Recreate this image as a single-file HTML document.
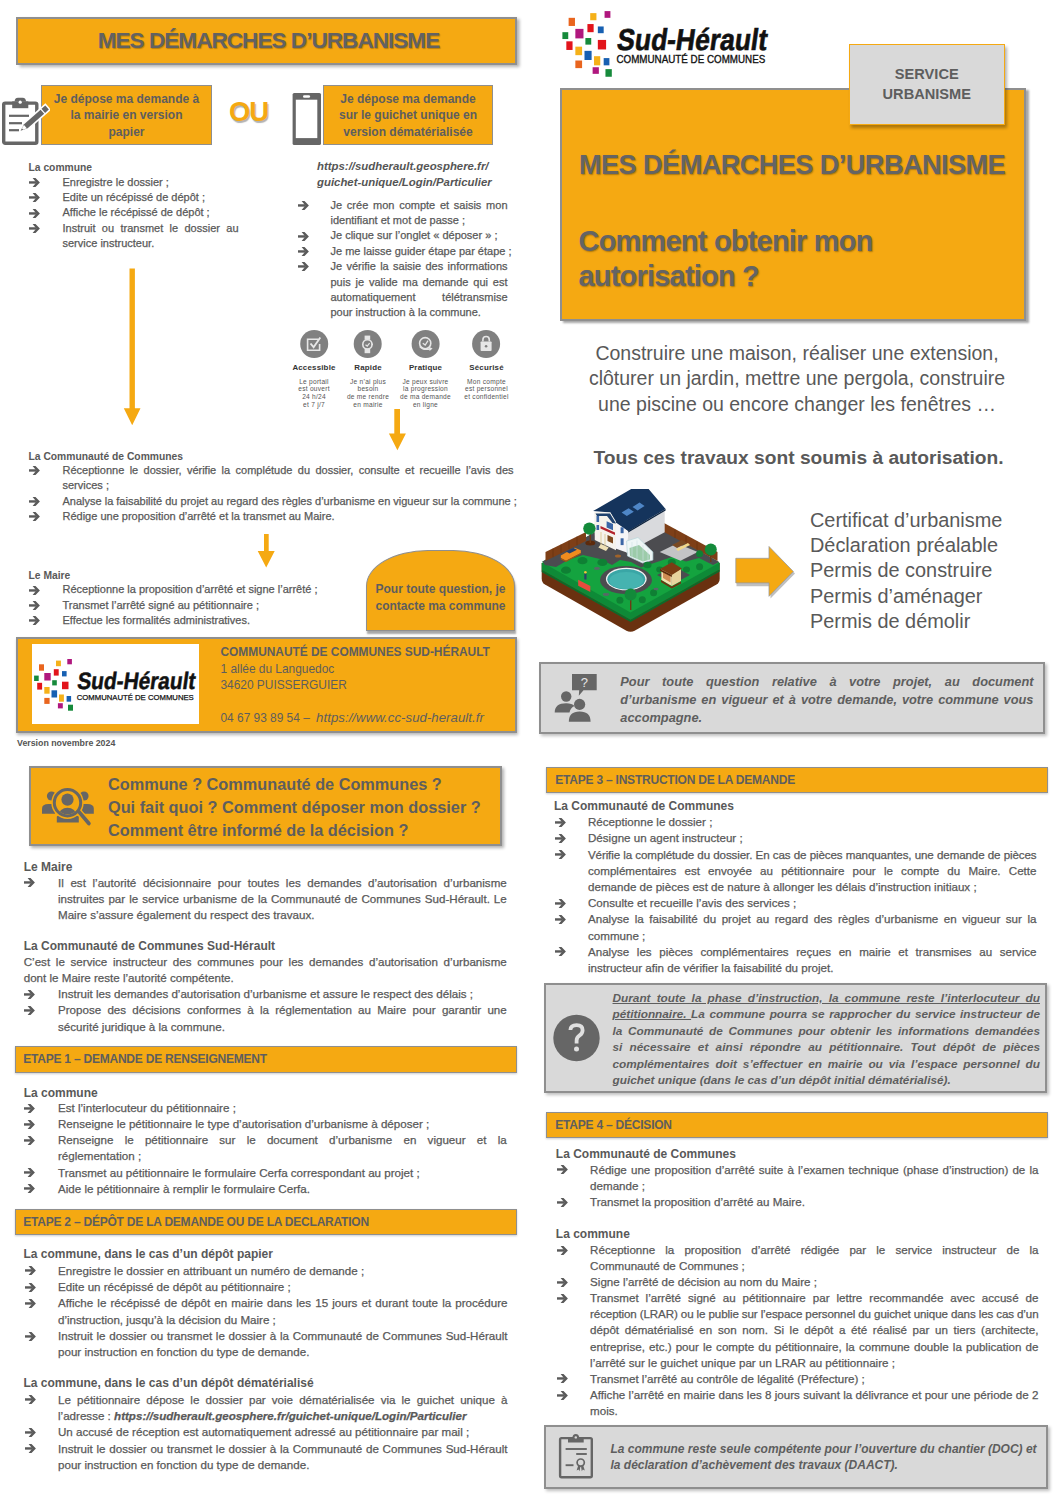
<!DOCTYPE html>
<html lang="fr"><head><meta charset="utf-8"><title>Mes démarches d'urbanisme</title>
<style>
html,body{margin:0;padding:0;background:#fff}
body{width:1061px;height:1500px;position:relative;overflow:hidden;font-family:"Liberation Sans",sans-serif;color:#595959}
.a{position:absolute}
.ob{position:absolute;box-sizing:border-box;background:#F5A912;border:1.5px solid #8f8f8f;box-shadow:1px 2px 3px rgba(0,0,0,.28)}
.gb{position:absolute;box-sizing:border-box;background:#d9d9d9;border:2px solid #8f8f8f;box-shadow:2px 2px 3px rgba(0,0,0,.25)}
.bt{position:absolute;font-size:11px;white-space:nowrap;-webkit-text-stroke:0.25px #595959}
.bt div{position:relative;white-space:nowrap}
.bt .j{text-align:justify;text-align-last:justify;white-space:normal}
.bt svg.ar{position:absolute;width:11px;height:9px;fill:#5a5a5a}
.h{font-weight:bold}
.bt.h{-webkit-text-stroke:0}
.B{font-size:11.6px}
.bt.h.B,.H2{font-size:12px}
.bt.h.T{font-size:10.3px}
.bi{font-weight:bold;font-style:italic}
.et{position:absolute;box-sizing:border-box;background:#F5A912;border:1.5px solid #8f8f8f;font-weight:bold;font-size:12px;letter-spacing:-0.22px;padding-top:1px;color:#5e5e5e;white-space:nowrap;box-shadow:0 1px 2px rgba(0,0,0,.2)}
</style></head><body>
<svg width="0" height="0" style="position:absolute">
<defs>
<symbol id="ar" viewBox="0 0 11 9"><rect x="0" y="3.25" width="7" height="2.4"/><polygon points="3.6,0 6.5,0 10.9,4.45 6.5,8.9 3.6,8.9 7.3,4.45"/></symbol>
<symbol id="logo" viewBox="33 655 164 58">
<rect x="67.3" y="659" width="4.6" height="5.3" fill="#b0177e"/>
<rect x="56" y="660.6" width="4.9" height="5.6" fill="#f5b119"/>
<rect x="39" y="664.3" width="5" height="6.4" fill="#e9651e"/>
<rect x="53.8" y="669.2" width="4.9" height="6.4" fill="#e2141b"/>
<rect x="62" y="671.1" width="4.6" height="5.3" fill="#1760b2"/>
<rect x="44.3" y="673" width="6.4" height="7.5" fill="#b0177e"/>
<rect x="34.1" y="675.6" width="4.6" height="5.4" fill="#168a3b"/>
<rect x="52.2" y="680.2" width="4.6" height="5.2" fill="#168a3b"/>
<rect x="62" y="681.7" width="6.5" height="7.5" fill="#e2141b"/>
<rect x="37.2" y="682.8" width="4.9" height="6.8" fill="#e2141b"/>
<rect x="44.3" y="687" width="5.3" height="6.7" fill="#f5b119"/>
<rect x="51.5" y="690.3" width="5.6" height="7.2" fill="#1760b2"/>
<rect x="59" y="694.5" width="4.9" height="7.2" fill="#f5b119"/>
<rect x="66.6" y="696" width="4.5" height="5.7" fill="#1760b2"/>
<rect x="44.3" y="697.9" width="5.3" height="6" fill="#e9651e"/>
<rect x="57.9" y="703.2" width="4.9" height="5.2" fill="#b0177e"/>
<rect x="68" y="704.7" width="5" height="6" fill="#168a3b"/>
<text x="76.4" y="689.4" transform="translate(76.4 689.4) skewX(-8) translate(-76.4 -689.4)" font-family="Liberation Sans" font-weight="bold" font-size="23.8" textLength="118" lengthAdjust="spacingAndGlyphs" fill="#111" stroke="#111" stroke-width="0.5">Sud-Hérault</text>
<text x="76.7" y="700.2" font-family="Liberation Sans" font-size="7.9" stroke="#111" stroke-width="0.25" textLength="117.1" lengthAdjust="spacingAndGlyphs" fill="#111">COMMUNAUTÉ DE COMMUNES</text>
</symbol>
</defs>
</svg>

<!-- ============ TOP LEFT ============ -->
<div class="ob" style="left:16px;top:17px;width:501px;height:47.5px;border-width:2px;box-shadow:2.5px 2px 3px rgba(0,0,0,.3)"></div>
<div class="a h" style="left:16px;top:17px;width:501px;height:47px;line-height:47px;text-align:center;font-size:22.6px;color:#626262;letter-spacing:-1px;padding-left:2px;text-shadow:1px 1px 1px rgba(0,0,0,.25)">MES DÉMARCHES D’URBANISME</div>

<!-- clipboard + pencil icon -->
<svg class="a" style="left:0;top:95px;z-index:2" width="50" height="52" viewBox="0 95 50 52">
<rect x="3.7" y="103.1" width="33.1" height="40.2" rx="1.5" fill="#fff" stroke="#666" stroke-width="3.4"/>
<path d="M12.2 101.4H28.3V108.2H12.2Z" fill="#666"/>
<path d="M14.6 101.6Q14.6 97.7 18 97.7H22.6Q26 97.7 26 101.6Z" fill="#666"/>
<circle cx="20.2" cy="102.2" r="1.6" fill="#fff"/>
<g stroke="#666" stroke-width="2.2"><line x1="9" y1="115.8" x2="29" y2="115.8"/><line x1="9" y1="123.2" x2="22" y2="123.2"/><line x1="9" y1="130.2" x2="19" y2="130.2"/></g>
<g transform="translate(20.6,130.8) rotate(-41.3)">
<path d="M-1 0L7 -4.3H36.8V4.3H7Z" fill="#fff"/>
<path d="M0 0L7 -2.7H29V2.7H7Z" fill="#666"/>
<path d="M2.6 -1L6.4 -2.1V2.1L2.6 1Z" fill="#fff"/>
<rect x="30.2" y="-2.7" width="5" height="5.4" fill="#666"/>
</g>
</svg>
<div class="ob" style="left:41px;top:85px;width:171px;height:60px;box-shadow:none"></div>
<div class="a h" style="left:41px;top:90.5px;width:171px;text-align:center;font-size:12px;line-height:16.7px;color:#5e5e5e">Je dépose ma demande à<br>la mairie en version<br>papier</div>
<div class="a h" style="left:229px;top:96px;font-size:27.5px;line-height:32px;color:#F5A912;letter-spacing:-1.2px;text-shadow:1px 1.5px 1px rgba(0,0,0,.3)">OU</div>
<!-- phone -->
<svg class="a" style="left:292px;top:92px" width="30" height="54" viewBox="292 92 30 54">
<rect x="292.6" y="93" width="28.4" height="52" rx="1.6" fill="#666"/>
<rect x="295.8" y="99.7" width="21.5" height="38.4" fill="#fff"/>
<rect x="303" y="95.2" width="7.1" height="2.6" rx="1.3" fill="#fff"/>
</svg>
<div class="ob" style="left:323px;top:85px;width:170px;height:60px;box-shadow:none"></div>
<div class="a h" style="left:323px;top:90.5px;width:170px;text-align:center;font-size:12px;line-height:16.7px;color:#5e5e5e">Je dépose ma demande<br>sur le guichet unique en<br>version dématérialisée</div>

<!-- section A -->
<div class="bt h T" style="left:28.5px;top:160.4px;line-height:15.3px">La commune</div>
<div class="bt" style="left:28.5px;top:174.85px;line-height:15.3px">
<div><svg class="ar" style="left:0;top:3.2px"><use href="#ar"/></svg><span style="margin-left:34px">Enregistre le dossier ;</span></div>
<div><svg class="ar" style="left:0;top:3.2px"><use href="#ar"/></svg><span style="margin-left:34px">Edite un récépissé de dépôt ;</span></div>
<div><svg class="ar" style="left:0;top:3.2px"><use href="#ar"/></svg><span style="margin-left:34px">Affiche le récépissé de dépôt ;</span></div>
<div style="padding-left:34px;width:176px" class="j"><svg class="ar" style="left:0;top:3.2px"><use href="#ar"/></svg>Instruit ou transmet le dossier au</div>
<div style="padding-left:34px">service instructeur.</div>
</div>

<!-- section B -->
<div class="a bi" style="left:317px;top:157.5px;font-size:11.4px;line-height:16px;color:#555">https://sudherault.geosphere.fr/<br>guichet-unique/Login/Particulier</div>
<div class="bt" style="left:297.5px;top:197.7px;line-height:15.37px">
<div style="padding-left:33px;width:177px" class="j"><svg class="ar" style="left:0;top:3.2px"><use href="#ar"/></svg>Je crée mon compte et saisis mon</div>
<div style="padding-left:33px">identifiant et mot de passe ;</div>
<div style="padding-left:33px"><svg class="ar" style="left:0;top:3.2px"><use href="#ar"/></svg>Je clique sur l’onglet « déposer » ;</div>
<div style="padding-left:33px"><svg class="ar" style="left:0;top:3.2px"><use href="#ar"/></svg>Je me laisse guider étape par étape ;</div>
<div style="padding-left:33px;width:177px" class="j"><svg class="ar" style="left:0;top:3.2px"><use href="#ar"/></svg>Je vérifie la saisie des informations</div>
<div style="padding-left:33px;width:177px" class="j">puis je valide ma demande qui est</div>
<div style="padding-left:33px;width:177px" class="j">automatiquement télétransmise</div>
<div style="padding-left:33px">pour instruction à la commune.</div>
</div>

<!-- feature icons -->
<svg class="a" style="left:295px;top:325px" width="210" height="40" viewBox="295 325 210 40">
<g fill="#808080"><circle cx="314.2" cy="344" r="14"/><circle cx="367.7" cy="344" r="14"/><circle cx="425.6" cy="344" r="14"/><circle cx="486.1" cy="344" r="14"/></g>
<g fill="none" stroke="#e6e6e6" stroke-width="1.6">
<path d="M318.5 339.2H307.6V350.2H319.6V344"/>
<path d="M310.5 343.5L313.6 347.2L320.3 337.5" stroke-width="1.9"/>
<circle cx="367.4" cy="344.4" r="4.6"/>
<path d="M365.5 344.8L367.2 346.1L369.6 343.2" stroke-width="1.2"/>
<circle cx="425.2" cy="343.2" r="5.6"/>
<path d="M422.8 343.2L425.2 345L428 340.6" stroke-width="1.3"/>
<path d="M419.8 346.5Q423 350.6 430.5 348.8" stroke-width="1.4"/>
<path d="M486.1 341.6V339.7A3.2 3.2 0 0 0 479.7 339.7V341.6" transform="translate(3.2,0)" stroke-width="1.6"/>
</g>
<g fill="#e6e6e6">
<rect x="364.6" y="335.6" width="5.6" height="4.2"/><rect x="364.6" y="348.6" width="5.6" height="4.6"/>
<rect x="371.8" y="343.6" width="1.2" height="1.6"/>
<path d="M429 346.8L432.6 348.4L429.6 351Z"/>
<rect x="480.6" y="341.4" width="11" height="9.6" rx="0.8"/>
</g>
<circle cx="486.1" cy="346.2" r="1.3" fill="#808080"/>
</svg>
<div class="a" style="left:284px;top:363px;width:60px;text-align:center;font-size:7.9px;line-height:10px;font-weight:bold;color:#333;letter-spacing:0.2px">Accessible</div>
<div class="a" style="left:338px;top:363px;width:60px;text-align:center;font-size:7.9px;line-height:10px;font-weight:bold;color:#333;letter-spacing:0.2px">Rapide</div>
<div class="a" style="left:393px;top:363px;width:65px;text-align:center;font-size:7.9px;line-height:10px;font-weight:bold;color:#333;letter-spacing:0.2px">Pratique</div>
<div class="a" style="left:454px;top:363px;width:65px;text-align:center;font-size:7.9px;line-height:10px;font-weight:bold;color:#333;letter-spacing:0.2px">Sécurisé</div>
<div class="a" style="left:284px;top:377.6px;width:60px;text-align:center;font-size:6.6px;line-height:7.8px;color:#555;letter-spacing:0.25px">Le portail<br>est ouvert<br>24 h/24<br>et 7 j/7</div>
<div class="a" style="left:338px;top:377.6px;width:60px;text-align:center;font-size:6.6px;line-height:7.8px;color:#555;letter-spacing:0.25px">Je n’ai plus<br>besoin<br>de me rendre<br>en mairie</div>
<div class="a" style="left:390px;top:377.6px;width:71px;text-align:center;font-size:6.6px;line-height:7.8px;color:#555;letter-spacing:0.25px">Je peux suivre<br>la progression<br>de ma demande<br>en ligne</div>
<div class="a" style="left:451px;top:377.6px;width:71px;text-align:center;font-size:6.6px;line-height:7.8px;color:#555;letter-spacing:0.25px">Mon compte<br>est personnel<br>et confidentiel</div>

<!-- orange down arrows -->
<svg class="a" style="left:0;top:0" width="420" height="580" viewBox="0 0 420 580">
<g fill="#F5A912">
<path d="M129.5 268.4H134.9V408.3H140.5L132.2 425.3L123.8 408.3H129.5Z"/>
<path d="M394.3 409H400V433.4H405.9L397.4 450.3L388.9 433.4H394.3Z"/>
<path d="M264 534H268.7V551H274.7L266.2 567.5L257.7 551H264Z"/>
</g>
</svg>

<!-- section C -->
<div class="bt h T" style="left:28.5px;top:448.9px;line-height:15.2px">La Communauté de Communes</div>
<div class="bt" style="left:28.5px;top:463.4px;line-height:15.1px">
<div style="padding-left:34px;width:451px" class="j"><svg class="ar" style="left:0;top:3.1px"><use href="#ar"/></svg>Réceptionne le dossier, vérifie la complétude du dossier, consulte et recueille l’avis des</div>
<div style="padding-left:34px">services ;</div>
<div style="padding-left:34px"><svg class="ar" style="left:0;top:3.1px"><use href="#ar"/></svg>Analyse la faisabilité du projet au regard des règles d’urbanisme en vigueur sur la commune ;</div>
<div style="padding-left:34px"><svg class="ar" style="left:0;top:3.1px"><use href="#ar"/></svg>Rédige une proposition d’arrêté et la transmet au Maire.</div>
</div>
<div class="bt h T" style="left:28.5px;top:567.8px;line-height:15.2px">Le Maire</div>
<div class="bt" style="left:28.5px;top:582.4px;line-height:15.3px">
<div style="padding-left:34px"><svg class="ar" style="left:0;top:3.2px"><use href="#ar"/></svg>Réceptionne la proposition d’arrêté et signe l’arrêté ;</div>
<div style="padding-left:34px"><svg class="ar" style="left:0;top:3.2px"><use href="#ar"/></svg>Transmet l’arrêté signé au pétitionnaire ;</div>
<div style="padding-left:34px"><svg class="ar" style="left:0;top:3.2px"><use href="#ar"/></svg>Effectue les formalités administratives.</div>
</div>

<!-- question rounded box -->
<div class="a" style="left:365.9px;top:549.9px;width:149.4px;height:81.4px;box-sizing:border-box;background:#F5A912;border:1.5px solid #8f8f8f;border-radius:62px 62px 0 0/36px 36px 0 0;box-shadow:1px 3px 2px rgba(0,0,0,.35)"></div>
<div class="a h" style="left:366px;top:580.5px;width:149px;text-align:center;font-size:12px;line-height:17.6px;color:#5e5e5e">Pour toute question, je<br>contacte ma commune</div>

<!-- footer box -->
<div class="ob" style="left:15.5px;top:637px;width:501px;height:95.5px;border-width:2px"></div>
<div class="a" style="left:32px;top:643.7px;width:166.7px;height:80px;background:#fff"></div>
<svg class="a" style="left:33px;top:655px" width="164" height="58"><use href="#logo" width="164" height="58"/></svg>
<div class="a" style="left:220.5px;top:644.2px;font-size:11.9px;line-height:16.5px;color:#5e5e5e;white-space:nowrap"><b>COMMUNAUTÉ DE COMMUNES SUD-HÉRAULT</b><br>1 allée du Languedoc<br>34620 PUISSERGUIER<br><br>04 67 93 89 54 – <i style="font-size:13.2px;letter-spacing:0.05px;margin-left:3px">https://www.cc-sud-herault.fr</i></div>
<div class="a h" style="left:17px;top:737.5px;font-size:8.8px;line-height:11px;color:#555">Version novembre 2024</div>

<!-- ============ TOP RIGHT ============ -->
<svg class="a" style="left:561.1px;top:5.6px" width="208.3" height="73.7"><use href="#logo" width="208.3" height="73.7"/></svg>
<div class="ob" style="left:559.6px;top:88.4px;width:466px;height:233px;border-width:2px;box-shadow:2.5px 2px 2px rgba(0,0,0,.35)"></div>
<div class="a" style="left:848.5px;top:43.5px;width:156.5px;height:81px;box-sizing:border-box;background:#d9d9d9;border:1.5px solid #F5A912;box-shadow:2px 3px 3px rgba(0,0,0,.3)"></div>
<div class="a h" style="left:848.5px;top:63.6px;width:156.5px;text-align:center;font-size:14.6px;line-height:20.6px;color:#5e5e5e">SERVICE<br>URBANISME</div>
<div class="a h" style="left:579px;top:150px;font-size:27.2px;line-height:30px;letter-spacing:-0.6px;color:#646464;white-space:nowrap;text-shadow:1px 1px 1.5px rgba(0,0,0,.3)">MES DÉMARCHES D’URBANISME</div>
<div class="a h" style="left:578.5px;top:224px;font-size:29px;line-height:34.8px;letter-spacing:-0.8px;color:#646464;white-space:nowrap;text-shadow:1px 1px 1.5px rgba(0,0,0,.3)">Comment obtenir mon<br>autorisation ?</div>

<div class="a" style="left:560px;top:340.9px;width:474px;text-align:center;font-size:19.5px;line-height:25.4px;color:#595959;white-space:nowrap">Construire une maison, réaliser une extension,<br>clôturer un jardin, mettre une pergola, construire<br>une piscine ou encore changer les fenêtres …</div>
<div class="a h" style="left:560px;top:445px;width:477px;text-align:center;font-size:19.2px;line-height:25px;color:#595959;white-space:nowrap">Tous ces travaux sont soumis à autorisation.</div>

<!-- house illustration -->
<svg class="a" style="left:536px;top:484px" width="190" height="152" viewBox="536 484 190 152">
<!-- base -->
<path d="M541.7 563V578.5Q541.7 582.5 545 584.5L626 630.5Q630.5 633 635 630.5L716.5 584.5Q719.7 582.5 719.7 578.5V563Z" fill="#6a3110"/>
<path d="M541.7 563V570L630.5 620L719.7 569.5V563Z" fill="#0e8a37"/>
<path d="M630.5 620L719.7 569.5V571.5L630.5 622L541.7 572V570Z" fill="#0a6d2b"/>
<!-- top surface -->
<path d="M541.7 562L631 512L719.7 562.4L630.5 612.5Z" fill="#14a33f"/>
<!-- driveway gray -->
<path d="M542.5 561.5L631 512L719 562L713 565L699 558L686 561.5L672 557L660 561L648 565L641 567.5L631 562L620 560L612 565L600 559L583 555L568 560L556 567L545 565Z" fill="#4c4c50"/>
<!-- gazebo square gray -->
<path d="M657 575L674 566L690 575L673 584Z" fill="#4c4c50"/>
<!-- patio -->
<path d="M659.7 552L677 543.4L697.8 552L680.5 560.7Z" fill="#c4c4c6"/>
<!-- pool path + pool -->
<ellipse cx="626" cy="580" rx="26" ry="14" fill="#4c4c50"/>
<ellipse cx="626.3" cy="579" rx="20.4" ry="11.3" fill="#f4f4f4"/>
<ellipse cx="626.3" cy="579.2" rx="19" ry="10.2" fill="#3aa6a6"/>
<ellipse cx="626.3" cy="580.5" rx="17" ry="8.4" fill="#45b3b0"/>
<!-- fences -->
<path d="M545.5 552L586 532V541L545.5 561Z" fill="#7e3f17"/>
<path d="M664 523L717.5 552V561L664 532.1Z" fill="#7e3f17"/>
<g stroke="#5e2f0f" stroke-width="0.5"><line x1="553" y1="548.5" x2="553" y2="557.2"/><line x1="561" y1="544.5" x2="561" y2="553.2"/><line x1="569" y1="540.5" x2="569" y2="549.2"/><line x1="577" y1="536.5" x2="577" y2="545.2"/><line x1="675" y1="529.3" x2="675" y2="538"/><line x1="686" y1="535.3" x2="686" y2="544"/><line x1="697" y1="541.3" x2="697" y2="550"/><line x1="708" y1="547.3" x2="708" y2="556"/></g>
<!-- house -->
<path d="M628.3 531.1L664.7 509.4V532.3L626.6 552.7Z" fill="#d9dadd"/>
<path d="M615.5 521.3V548.5L627.4 552.7L628.3 531.1Z" fill="#f5f5f7"/>
<path d="M593.1 511.1L631.2 489.1H648.6L665.6 509L628.3 531.1L615.5 522.2L610.4 512.4Z" fill="#15345c"/>
<path d="M628.3 531.1L665.6 509V510.5L628.3 532.6Z" fill="#0d2440"/>
<path d="M621.6 512.6L628.6 508.2L633.8 511.7L626.8 516Z" fill="#4f86c6"/>
<path d="M632.5 507L639.5 502.6L644.6 506L637.6 510.4Z" fill="#4f86c6"/>
<rect x="620.6" y="527.3" width="3" height="5.9" fill="#3b66a6"/>
<rect x="620.6" y="538.3" width="3" height="6.8" fill="#3b66a6"/>
<!-- porch -->
<path d="M594.3 512.2L610.4 512.4L616 521.5V550.2L594.8 540Z" fill="#f6f3ec"/>
<path d="M595.5 513.5L610 513.5L616 523.5L612.5 523L607 516L597 516Z" fill="#1f426f"/>
<rect x="596.5" y="516" width="2.6" height="6" fill="#3b66a6"/>
<rect x="596.5" y="525" width="2.6" height="5" fill="#3b66a6"/>
<path d="M606.6 521.3L613 524V530.2L606.6 527.4Z" fill="#3b66a6"/>
<path d="M600.5 526L615 532.5V535L600.5 528.5Z" fill="#b3232b"/>
<path d="M607.5 535L613 537.5V543.5L607.5 541Z" fill="#7d4a1e"/>
<path d="M601 544L608.7 547.6L606 551L598.4 547.4Z" fill="#efe0b5"/>
<path d="M601 532V545M605 534V546" stroke="#d9c38c" stroke-width="0.8"/>
<!-- greenhouse -->
<path d="M626.6 541L638 537.5L652.9 552V560L642.5 563L627.5 556Z" fill="#eef6f6" stroke="#b6d6da" stroke-width="0.7"/>
<path d="M629.5 548L639 545L650 555V559.5L643 561.5L630 556Z" fill="#5aa86a" opacity=".55"/>
<path d="M632 542V557M637 540.5V559.5M643 545V562M648 549.5V561" stroke="#cfe3e6" stroke-width="0.6"/>
<!-- trees -->
<ellipse cx="590.3" cy="543" rx="5" ry="2.5" fill="#5c2a0c"/>
<rect x="589.6" y="532" width="1.4" height="11" fill="#6e3a14"/>
<circle cx="589.4" cy="528.6" r="6.2" fill="#138a3a"/>
<rect x="710.1" y="552" width="1.4" height="10" fill="#6e3a14"/>
<circle cx="710.8" cy="549.4" r="6" fill="#138a3a"/>
<!-- bushes -->
<g fill="#0f8034">
<ellipse cx="582.5" cy="560.7" rx="5" ry="3.6"/><ellipse cx="602.4" cy="562.4" rx="5" ry="3.6"/><ellipse cx="566" cy="570.2" rx="5" ry="3.6"/>
<ellipse cx="647.5" cy="565" rx="4" ry="3.2"/><ellipse cx="659.7" cy="569.4" rx="3.5" ry="3"/><ellipse cx="686.5" cy="569.4" rx="3.5" ry="3"/>
<ellipse cx="699.6" cy="553.8" rx="3.5" ry="3.5"/><ellipse cx="699.6" cy="566.8" rx="3.5" ry="3.5"/><ellipse cx="653.6" cy="592.8" rx="3.5" ry="3.5"/>
<ellipse cx="619.9" cy="600.3" rx="3.5" ry="3.5"/><ellipse cx="642.3" cy="599.7" rx="3.5" ry="3.5"/><ellipse cx="671.8" cy="562.4" rx="4" ry="3.4"/>
</g>
<g fill="#6a5a72" opacity=".8"><ellipse cx="597" cy="568.5" rx="3" ry="1.4"/><ellipse cx="606" cy="594.5" rx="3.2" ry="1.4"/><ellipse cx="656" cy="589" rx="2.5" ry="1.2"/></g>
<!-- front tree -->
<rect x="630" y="598" width="1.4" height="12" fill="#6e3a14"/>
<circle cx="630.6" cy="594.5" r="6" fill="#138a3a"/>
<!-- car -->
<path d="M560.8 555.5L574.7 547.7L580.8 550.3V552.9L566 560.7L560.8 558.1Z" fill="#f08c1e"/>
<path d="M566 551.5L573.5 548L577 549.8L569.5 553.5Z" fill="#24406e"/>
<path d="M560.8 558.1L566 560.7L580.8 552.9V554L566 562L560.8 559.5Z" fill="#a2570f"/>
<!-- gazebo -->
<path d="M661.4 568.5V580L671.8 586V574Z" fill="#f1e2b2"/>
<path d="M671.8 574V586L681 581V569Z" fill="#e8d49e"/>
<path d="M663 571V578L670.5 582.5V575Z" fill="#c06a2c" opacity=".7"/>
<path d="M660 569L671.8 562.2L682 568.5L671.8 575Z" fill="#7a3d14"/>
<path d="M660 569L671.8 575V577L660 571Z" fill="#5e2d0d"/>
<path d="M661 580L671.8 586.5L681 581.5V583.5L671.8 588.5L661 582Z" fill="#6e3310"/>
<!-- sign + person -->
<path d="M578.2 579.8L590.3 586V592L578.2 585.8Z" fill="#e84c3d"/>
<rect x="584.3" y="573.5" width="2.2" height="6" fill="#2b3f6a"/>
<circle cx="585.4" cy="572.3" r="1.3" fill="#f2c23a"/>
<!-- misc -->
<ellipse cx="618" cy="556" rx="3" ry="1.5" fill="#a0632a"/>
<path d="M672 545L682 540L687 543L677 548Z" fill="#7a4a22"/>
<path d="M676 549L688 543L690 545L678 551Z" fill="#f2d88a"/>
</svg>

<!-- orange right arrow -->
<svg class="a" style="left:733px;top:544px" width="64" height="56" viewBox="733 544 64 56">
<path d="M736.5 560.3H770.5V548.5L795 573.5L770.5 598.5V586.3H736.5Z" fill="#8a8a8a" opacity=".55"/>
<path d="M735.8 558.3H769V546.5L793.3 571.5L769 596.3V582.9H735.8Z" fill="#F5A912" stroke="#9a9a9a" stroke-width=".8"/>
</svg>
<div class="a" style="left:810px;top:507.9px;font-size:19.9px;line-height:25.3px;color:#595959;white-space:nowrap">Certificat d’urbanisme<br>Déclaration préalable<br>Permis de construire<br>Permis d’aménager<br>Permis de démolir</div>

<!-- gray info box -->
<div class="gb" style="left:539.4px;top:662px;width:505.6px;height:72px"></div>
<svg class="a" style="left:550px;top:670px" width="50" height="56" viewBox="550 670 50 56">
<g fill="#666">
<path d="M572 674H596.7V690.2H583.5L578.8 695.8L579.2 690.2H572Z"/>
<circle cx="566.2" cy="696.5" r="5.2"/>
<path d="M554.7 712.5Q554.7 703.2 566.2 703.2Q572 703.2 574.5 706Q570.5 707.5 569.5 712.5Z"/>
<circle cx="579.6" cy="704.4" r="5.6"/>
<path d="M568.8 721.7Q568.8 711.4 579.6 711.4Q590.6 711.4 590.6 721.7Z"/>
</g>
<text x="584.4" y="687" font-family="Liberation Sans" font-size="13" fill="#e6e6e6" text-anchor="middle">?</text>
</svg>
<div class="a bi" style="left:620.3px;top:673.3px;width:413.2px;font-size:12.8px;line-height:18px;color:#5e5e5e">
<div style="text-align:justify;text-align-last:justify">Pour toute question relative à votre projet, au document</div>
<div style="text-align:justify;text-align-last:justify">d’urbanisme en vigueur et à votre demande, votre commune vous</div>
<div>accompagne.</div>
</div>

<!-- ============ BOTTOM LEFT ============ -->
<div class="ob" style="left:29.3px;top:766.1px;width:473.2px;height:80.2px;border-width:2px;box-shadow:2px 2px 3px rgba(0,0,0,.3)"></div>
<svg class="a" style="left:38px;top:784px" width="60" height="44" viewBox="38 784 60 44">
<defs><clipPath id="ring"><circle cx="67.5" cy="802.7" r="11.6"/></clipPath></defs>
<g fill="#666">
<circle cx="51.5" cy="796" r="4.6"/><path d="M42 813.7V808.5Q42 803.9 48.5 803.9H55V813.7Z"/>
<circle cx="84" cy="796" r="4.6"/><path d="M81.6 803.9H87.3Q93.8 803.9 93.8 808.5V813.7H81.6Z"/>
<path d="M56.8 822.6V817Q56.8 815.5 60 815.5H75.6Q78.8 815.5 78.8 817V822.6Z"/>
</g>
<circle cx="67.5" cy="802.7" r="13.2" fill="#F5A912" stroke="#F5A912" stroke-width="6"/>
<line x1="77.9" y1="810.6" x2="88.9" y2="823.5" stroke="#F5A912" stroke-width="6.5" stroke-linecap="round"/>
<circle cx="67.5" cy="802.7" r="13.2" fill="none" stroke="#666" stroke-width="3"/>
<line x1="78.6" y1="811.4" x2="88.9" y2="823.5" stroke="#666" stroke-width="3.7" stroke-linecap="round"/>
<g fill="#666" clip-path="url(#ring)"><circle cx="67.5" cy="799.6" r="6.1"/><ellipse cx="67.5" cy="815" rx="9" ry="7.2"/></g>
</svg>
<div class="a h" style="left:108px;top:773.1px;font-size:16.3px;line-height:22.7px;color:#5e5e5e;white-space:nowrap">Commune ? Communauté de Communes ?<br>Qui fait quoi ? Comment déposer mon dossier ?<br>Comment être informé de la décision ?</div>

<div class="bt h B" style="left:23.7px;top:858.6px;line-height:16px">Le Maire</div>
<div class="bt B" style="left:24.2px;top:874.6px;line-height:16px">
<div style="padding-left:33.8px;width:448.8px" class="j"><svg class="ar" style="left:0;top:3.6px"><use href="#ar"/></svg>Il est l’autorité décisionnaire pour toutes les demandes d’autorisation d’urbanisme</div>
<div style="padding-left:33.8px;width:448.8px" class="j">instruites par le service urbanisme de la Communauté de Communes Sud-Hérault. Le</div>
<div style="padding-left:33.8px">Maire s’assure également du respect des travaux.</div>
</div>
<div class="bt h" style="left:23.7px;top:938.2px;line-height:16px;font-size:12px">La Communauté de Communes Sud-Hérault</div>
<div class="bt B" style="left:23.7px;top:953.9px;line-height:16.2px">
<div style="width:483.1px" class="j">C’est le service instructeur des communes pour les demandes d’autorisation d’urbanisme</div>
<div>dont le Maire reste l’autorité compétente.</div>
</div>
<div class="bt B" style="left:24.2px;top:986.2px;line-height:16.25px">
<div style="padding-left:33.8px"><svg class="ar" style="left:0;top:3.7px"><use href="#ar"/></svg>Instruit les demandes d’autorisation d’urbanisme et assure le respect des délais ;</div>
<div style="padding-left:33.8px;width:448.8px" class="j"><svg class="ar" style="left:0;top:3.7px"><use href="#ar"/></svg>Propose des décisions conformes à la réglementation au Maire pour garantir une</div>
<div style="padding-left:33.8px">sécurité juridique à la commune.</div>
</div>

<div class="et" style="left:14.5px;top:1046.4px;width:502px;height:26.2px;line-height:23.2px;padding-left:7.7px">ETAPE 1 – DEMANDE DE RENSEIGNEMENT</div>
<div class="bt h B" style="left:23.7px;top:1084.7px;line-height:16px">La commune</div>
<div class="bt B" style="left:24.2px;top:1100.2px;line-height:16.1px">
<div style="padding-left:33.8px"><svg class="ar" style="left:0;top:3.6px"><use href="#ar"/></svg>Est l’interlocuteur du pétitionnaire ;</div>
<div style="padding-left:33.8px"><svg class="ar" style="left:0;top:3.6px"><use href="#ar"/></svg>Renseigne le pétitionnaire le type d’autorisation d’urbanisme à déposer ;</div>
<div style="padding-left:33.8px;width:448.8px" class="j"><svg class="ar" style="left:0;top:3.6px"><use href="#ar"/></svg>Renseigne le pétitionnaire sur le document d’urbanisme en vigueur et la</div>
<div style="padding-left:33.8px">réglementation ;</div>
<div style="padding-left:33.8px"><svg class="ar" style="left:0;top:3.6px"><use href="#ar"/></svg>Transmet au pétitionnaire le formulaire Cerfa correspondant au projet ;</div>
<div style="padding-left:33.8px"><svg class="ar" style="left:0;top:3.6px"><use href="#ar"/></svg>Aide le pétitionnaire à remplir le formulaire Cerfa.</div>
</div>

<div class="et" style="left:14.5px;top:1209.2px;width:502px;height:26.2px;line-height:23.2px;padding-left:7.7px">ETAPE 2 – DÉPÔT DE LA DEMANDE OU DE LA DECLARATION</div>
<div class="bt h B" style="left:23.5px;top:1246px;line-height:16px">La commune, dans le cas d’un dépôt papier</div>
<div class="bt B" style="left:24.5px;top:1262.8px;line-height:16.3px">
<div style="padding-left:33.5px"><svg class="ar" style="left:0;top:3.7px"><use href="#ar"/></svg>Enregistre le dossier en attribuant un numéro de demande ;</div>
<div style="padding-left:33.5px"><svg class="ar" style="left:0;top:3.7px"><use href="#ar"/></svg>Edite un récépissé de dépôt au pétitionnaire ;</div>
<div style="padding-left:33.5px;width:449.5px" class="j"><svg class="ar" style="left:0;top:3.7px"><use href="#ar"/></svg>Affiche le récépissé de dépôt en mairie dans les 15 jours et durant toute la procédure</div>
<div style="padding-left:33.5px">d’instruction, jusqu’à la décision du Maire ;</div>
<div style="padding-left:33.5px;width:449.5px" class="j"><svg class="ar" style="left:0;top:3.7px"><use href="#ar"/></svg>Instruit le dossier ou transmet le dossier à la Communauté de Communes Sud-Hérault</div>
<div style="padding-left:33.5px">pour instruction en fonction du type de demande.</div>
</div>
<div class="bt h B" style="left:23.5px;top:1375px;line-height:16px">La commune, dans le cas d’un dépôt dématérialisé</div>
<div class="bt B" style="left:24.5px;top:1391.8px;line-height:16.3px">
<div style="padding-left:33.5px;width:449.5px" class="j"><svg class="ar" style="left:0;top:3.7px"><use href="#ar"/></svg>Le pétitionnaire dépose le dossier par voie dématérialisée via le guichet unique à</div>
<div style="padding-left:33.5px">l’adresse : <span class="bi">https://sudherault.geosphere.fr/guichet-unique/Login/Particulier</span></div>
<div style="padding-left:33.5px"><svg class="ar" style="left:0;top:3.7px"><use href="#ar"/></svg>Un accusé de réception est automatiquement adressé au pétitionnaire par mail ;</div>
<div style="padding-left:33.5px;width:449.5px" class="j"><svg class="ar" style="left:0;top:3.7px"><use href="#ar"/></svg>Instruit le dossier ou transmet le dossier à la Communauté de Communes Sud-Hérault</div>
<div style="padding-left:33.5px">pour instruction en fonction du type de demande.</div>
</div>

<!-- ============ BOTTOM RIGHT ============ -->
<div class="et" style="left:546.3px;top:766.6px;width:502.2px;height:26px;line-height:23px;padding-left:8px">ETAPE 3 – INSTRUCTION DE LA DEMANDE</div>
<div class="bt h B" style="left:553.9px;top:797.9px;line-height:16px">La Communauté de Communes</div>
<div class="bt B" style="left:554.6px;top:814.1px;line-height:16.2px">
<div style="padding-left:33.4px"><svg class="ar" style="left:0;top:3.7px"><use href="#ar"/></svg>Réceptionne le dossier ;</div>
<div style="padding-left:33.4px"><svg class="ar" style="left:0;top:3.7px"><use href="#ar"/></svg>Désigne un agent instructeur ;</div>
<div style="padding-left:33.4px;width:448.5px;letter-spacing:-0.12px" class="j"><svg class="ar" style="left:0;top:3.7px"><use href="#ar"/></svg>Vérifie la complétude du dossier. En cas de pièces manquantes, une demande de pièces</div>
<div style="padding-left:33.4px;width:448.5px" class="j">complémentaires est envoyée au pétitionnaire pour le compte du Maire. Cette</div>
<div style="padding-left:33.4px">demande de pièces est de nature à allonger les délais d’instruction initiaux ;</div>
<div style="padding-left:33.4px"><svg class="ar" style="left:0;top:3.7px"><use href="#ar"/></svg>Consulte et recueille l’avis des services ;</div>
<div style="padding-left:33.4px;width:448.5px" class="j"><svg class="ar" style="left:0;top:3.7px"><use href="#ar"/></svg>Analyse la faisabilité du projet au regard des règles d’urbanisme en vigueur sur la</div>
<div style="padding-left:33.4px">commune ;</div>
<div style="padding-left:33.4px;width:448.5px" class="j"><svg class="ar" style="left:0;top:3.7px"><use href="#ar"/></svg>Analyse les pièces complémentaires reçues en mairie et transmises au service</div>
<div style="padding-left:33.4px">instructeur afin de vérifier la faisabilité du projet.</div>
</div>

<div class="gb" style="left:544.3px;top:982.5px;width:503.2px;height:110px"></div>
<svg class="a" style="left:550px;top:1011px" width="54" height="54" viewBox="550 1011 54 54">
<circle cx="576.5" cy="1038" r="23.2" fill="#666"/>
<path d="M570.4 1030Q570.6 1025.2 576.6 1025.2Q582.6 1025.2 582.6 1030.2Q582.6 1033.4 579.6 1035.4Q576.6 1037.4 576.6 1040.6V1043.6" fill="none" stroke="#e0e0e0" stroke-width="3.8"/><circle cx="576.5" cy="1049" r="2.5" fill="#e0e0e0"/>
</svg>
<div class="a bi" style="left:612.5px;top:989.7px;width:427.5px;font-size:11.8px;line-height:16.5px;color:#5e5e5e">
<div style="text-align:justify;text-align-last:justify"><u>Durant toute la phase d’instruction, la commune reste l’interlocuteur du</u></div>
<div style="text-align:justify;text-align-last:justify"><u>pétitionnaire. </u>La commune pourra se rapprocher du service instructeur de</div>
<div style="text-align:justify;text-align-last:justify">la Communauté de Communes pour obtenir les informations demandées</div>
<div style="text-align:justify;text-align-last:justify">si nécessaire et ainsi répondre au pétitionnaire. Tout dépôt de pièces</div>
<div style="text-align:justify;text-align-last:justify">complémentaires doit s’effectuer en mairie ou via l’espace personnel du</div>
<div>guichet unique (dans le cas d’un dépôt initial dématérialisé).</div>
</div>

<div class="et" style="left:546.3px;top:1111.6px;width:502.2px;height:26px;line-height:23px;padding-left:8px">ETAPE 4 – DÉCISION</div>
<div class="bt h B" style="left:555.8px;top:1145.6px;line-height:16px">La Communauté de Communes</div>
<div class="bt B" style="left:556.9px;top:1161.8px;line-height:16.2px">
<div style="padding-left:33.2px;width:448.4px" class="j"><svg class="ar" style="left:0;top:3.7px"><use href="#ar"/></svg>Rédige une proposition d’arrêté suite à l’examen technique (phase d’instruction) de la</div>
<div style="padding-left:33.2px">demande ;</div>
<div style="padding-left:33.2px"><svg class="ar" style="left:0;top:3.7px"><use href="#ar"/></svg>Transmet la proposition d’arrêté au Maire.</div>
</div>
<div class="bt h B" style="left:555.8px;top:1226px;line-height:16px">La commune</div>
<div class="bt B" style="left:556.9px;top:1242px;line-height:16.1px">
<div style="padding-left:33.2px;width:448.4px" class="j"><svg class="ar" style="left:0;top:3.7px"><use href="#ar"/></svg>Réceptionne la proposition d’arrêté rédigée par le service instructeur de la</div>
<div style="padding-left:33.2px">Communauté de Communes ;</div>
<div style="padding-left:33.2px"><svg class="ar" style="left:0;top:3.7px"><use href="#ar"/></svg>Signe l’arrêté de décision au nom du Maire ;</div>
<div style="padding-left:33.2px;width:448.4px" class="j"><svg class="ar" style="left:0;top:3.7px"><use href="#ar"/></svg>Transmet l’arrêté signé au pétitionnaire par lettre recommandée avec accusé de</div>
<div style="padding-left:33.2px;width:448.4px;letter-spacing:-0.12px" class="j">réception (LRAR) ou le publie sur l’espace personnel du guichet unique dans les cas d’un</div>
<div style="padding-left:33.2px;width:448.4px" class="j">dépôt dématérialisé en son nom. Si le dépôt a été réalisé par un tiers (architecte,</div>
<div style="padding-left:33.2px;width:448.4px" class="j">entreprise, etc.) pour le compte du pétitionnaire, la commune double la publication de</div>
<div style="padding-left:33.2px">l’arrêté sur le guichet unique par un LRAR au pétitionnaire ;</div>
<div style="padding-left:33.2px"><svg class="ar" style="left:0;top:3.7px"><use href="#ar"/></svg>Transmet l’arrêté au contrôle de légalité (Préfecture) ;</div>
<div style="padding-left:33.2px;width:448.4px" class="j"><svg class="ar" style="left:0;top:3.7px"><use href="#ar"/></svg>Affiche l’arrêté en mairie dans les 8 jours suivant la délivrance et pour une période de 2</div>
<div style="padding-left:33.2px">mois.</div>
</div>

<div class="gb" style="left:544.2px;top:1425.3px;width:504.3px;height:63.7px"></div>
<svg class="a" style="left:555px;top:1431px" width="42" height="50" viewBox="555 1431 42 50">
<rect x="560.1" y="1438.1" width="31.7" height="39.2" rx="1.5" fill="none" stroke="#666" stroke-width="2.4"/>
<path d="M568 1442.6V1438.3H572.2Q572.6 1434 575.8 1434Q579 1434 579.4 1438.3H583.7V1442.6Z" fill="#666"/>
<circle cx="575.8" cy="1437.4" r="1.2" fill="#d9d9d9"/>
<g stroke="#666" stroke-width="1.9"><line x1="565.6" y1="1449" x2="586.8" y2="1449"/><line x1="576.2" y1="1454" x2="586.8" y2="1454"/><line x1="565.6" y1="1465.2" x2="573.5" y2="1465.2"/></g>
<circle cx="580.7" cy="1462.6" r="3.6" fill="none" stroke="#666" stroke-width="1.7"/>
<path d="M578.2 1465.5L576.6 1470.5L578.6 1469.5L579.6 1471.2L580.4 1466.4ZM583.2 1465.5L584.8 1470.5L582.8 1469.5L581.8 1471.2L581 1466.4Z" fill="#666"/>
</svg>
<div class="a bi" style="left:610.5px;top:1440.7px;font-size:12px;line-height:16.2px;color:#5e5e5e;white-space:nowrap">La commune reste seule compétente pour l’ouverture du chantier (DOC) et<br>la déclaration d’achèvement des travaux (DAACT).</div>

</body></html>
